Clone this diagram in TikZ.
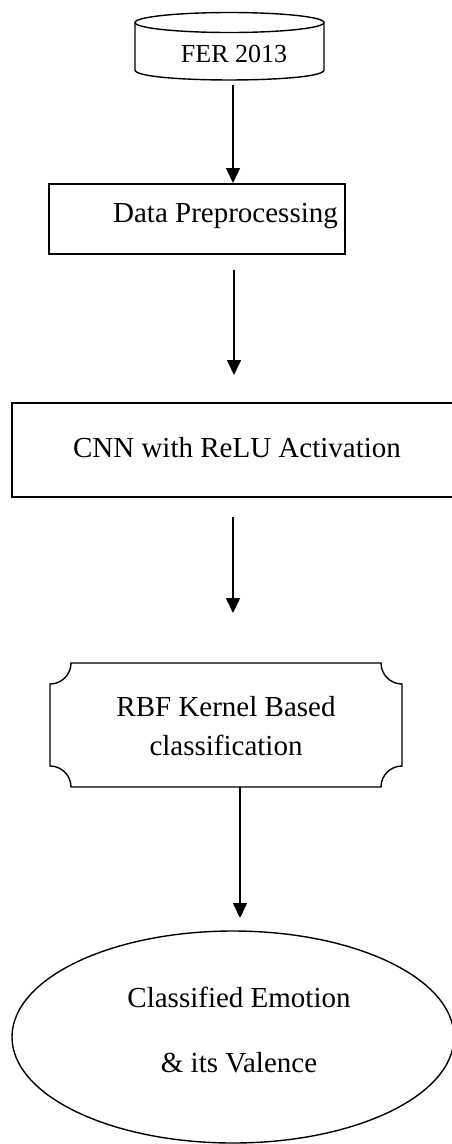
\documentclass[tikz,border=0pt]{standalone}
\usepackage{fontspec}
\setmainfont{Liberation Serif}
\usetikzlibrary{arrows.meta,shapes.geometric}
\tikzset{
  boxline/.style={draw=black,line width=1.4pt},
  flowarrow/.style={line width=1.6pt,-{Triangle[length=15pt,width=14pt]}},
  txt/.style={font=\fontsize{29}{35}\selectfont,inner sep=0pt,anchor=base},
  smalltxt/.style={font=\fontsize{26}{31}\selectfont,inner sep=0pt,anchor=base}
}
\begin{document}
\begin{tikzpicture}[x=1pt,y=-1pt]
\useasboundingbox (0,0) rectangle (452,1144);
% cylinder FER 2013
\draw[boxline] (229.5,22.5) ellipse [x radius=94.5pt, y radius=10pt];
\draw[boxline] (135,22.5) -- (135,70) .. controls (135,83.3) and (324,83.3) .. (324,70) -- (324,22.5);
\node[smalltxt] (fer) at (234,62) {FER 2013};
\coordinate (c1s) at (233,85);
\coordinate (c1e) at (233,183);
% data preprocessing
\node[boxline,minimum width=296pt,minimum height=70pt,inner sep=0pt] (data) at (197,219) {};
\node[txt] (datat) at (225.5,222) {Data Preprocessing};
\coordinate (c2s) at (234,270);
\coordinate (c2e) at (234,375);
% CNN
\node[boxline,minimum width=444pt,minimum height=94pt,inner sep=0pt] (cnn) at (234,450) {};
\node[txt] (cnnt) at (237,457) {CNN with ReLU Activation};
\coordinate (c3s) at (233,517);
\coordinate (c3e) at (233,613);
% RBF with concave corners
\draw[boxline] (71,663) -- (381,663) arc[start angle=180,end angle=270,radius=21pt] -- (402,766)
  arc[start angle=90,end angle=180,radius=21pt] -- (71,787)
  arc[start angle=0,end angle=90,radius=21pt] -- (50,684)
  arc[start angle=270,end angle=360,radius=21pt] -- cycle;
\node[inner sep=0pt,minimum width=352pt,minimum height=124pt] (rbf) at (226,725) {};
\node[txt] (rbft1) at (226,716) {RBF Kernel Based};
\node[txt] (rbft2) at (226,755) {classification};
\coordinate (c4s) at (240,787);
\coordinate (c4e) at (240,918);
% ellipse
\node[boxline,ellipse,minimum width=442pt,minimum height=212pt,inner sep=0pt] (ell) at (233,1037) {};
\node[txt] (ellt1) at (239,1007) {Classified Emotion};
\node[txt] (ellt2) at (239,1072) {\& its Valence};
% arrows
\draw[flowarrow] (c1s) -- (c1e);
\draw[flowarrow] (c2s) -- (c2e);
\draw[flowarrow] (c3s) -- (c3e);
\draw[flowarrow] (c4s) -- (c4e);
\end{tikzpicture}
\end{document}
